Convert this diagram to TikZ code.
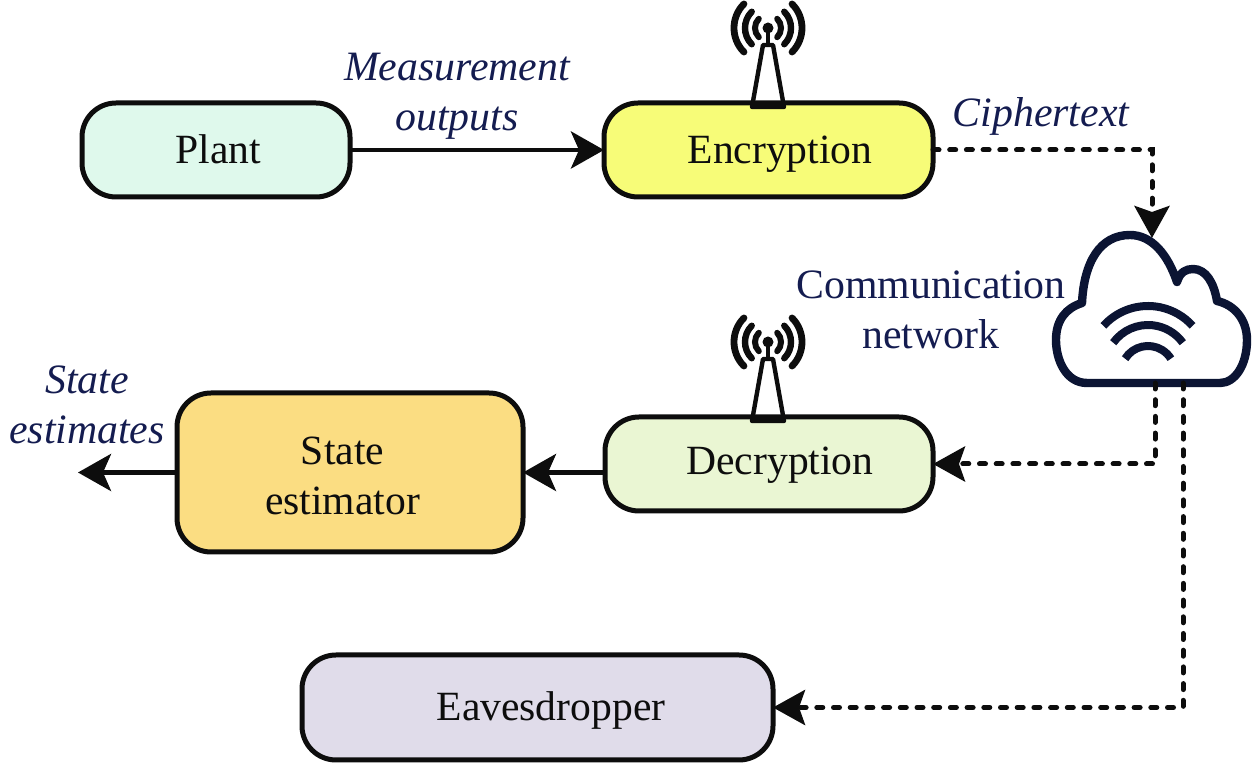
\documentclass[tikz,border=0pt]{standalone}
\usepackage{fontspec}
\setmainfont{Liberation Serif}
\usetikzlibrary{arrows.meta}
\definecolor{inkcol}{HTML}{0D0D0D}
\definecolor{navycol}{HTML}{141C50}
\definecolor{cloudcol}{HTML}{0B1433}
\definecolor{plantcol}{HTML}{DFF9EC}
\definecolor{enccol}{HTML}{F7FC78}
\definecolor{deccol}{HTML}{EAF6D3}
\definecolor{estcol}{HTML}{FBDD82}
\definecolor{eavcol}{HTML}{E0DCEA}
\tikzset{
	blockbox/.style={draw=inkcol, line width=2.5pt, rounded corners=17pt, outer sep=0pt},
	blocktext/.style={text=inkcol, align=center, font=\fontsize{20.8}{25}\selectfont},
	oneline/.style={blocktext, text height=13.5pt, text depth=0pt},
	tag/.style={text=navycol, align=center, font=\fontsize{20.9}{25}\selectfont\itshape},
	plaintag/.style={text=navycol, align=center, font=\fontsize{20.9}{25}\selectfont},
	solidarrow/.style={draw=inkcol, line width=2.4pt, -{Stealth[length=16.5pt, width=18.5pt, inset=4pt]}},
	dasharrow/.style={draw=inkcol, line width=2.5pt, line cap=round, dash pattern=on 3pt off 5.35pt,
		-{Stealth[length=16pt, width=17.5pt, inset=3pt]}},
	mast/.pic={
		\draw[inkcol, line width=2.2pt, line join=round] (-16,0) -- (-5,-62) -- (5,-62) -- (16,0) -- cycle;
		\draw[inkcol, line width=1.8pt] (0,-62) -- (0,-79);
		\fill[inkcol] (0,-79) circle (5.5);
		\foreach \r/\w in {13/3, 23/3.2, 34/3.4} {
			\draw[inkcol, line width=\w pt, line cap=round] (-45:\r) ++(0,-79) arc (-45:45:\r);
			\draw[inkcol, line width=\w pt, line cap=round] (135:\r) ++(0,-79) arc (135:225:\r);
		}
	}
}
\begin{document}
\begin{tikzpicture}[x=0.5pt, y=-0.5pt]
	\useasboundingbox (0,0) rectangle (1260,763);

	% blocks
	\node[blockbox, fill=plantcol, minimum width=134pt, minimum height=47pt,
		label={[oneline, xshift=1.25pt]center:Plant}] (plant) at (216,150) {};
	\node[blockbox, fill=enccol, minimum width=164.5pt, minimum height=47pt,
		label={[oneline, xshift=5.75pt]center:Encryption}] (enc) at (768.5,150) {};
	\node[blockbox, fill=deccol, minimum width=164pt, minimum height=47pt,
		label={[oneline, xshift=5.5pt, yshift=1.5pt]center:Decryption}] (dec) at (769,464) {};
	\node[blockbox, fill=estcol, minimum width=173pt, minimum height=79.5pt,
		label={[blocktext, xshift=-3.75pt, yshift=-1.5pt]center:State\\estimator}] (est) at (350,472.5) {};
	\node[blockbox, fill=eavcol, minimum width=235.5pt, minimum height=52.5pt,
		label={[oneline, xshift=6.75pt]center:Eavesdropper}] (eav) at (537.5,707.5) {};

	% antennas
	\pic at (768,107) {mast};
	\pic at (768,421) {mast};

	% cloud
	\draw[cloudcol, line width=4.2pt, line join=round] (1087,383)
		.. controls (1066,383) and (1056,360) .. (1056,340)
		.. controls (1056,320) and (1066,308) .. (1082,303)
		.. controls (1084,262) and (1100,235) .. (1130,235)
		.. controls (1152,235) and (1168,255) .. (1177,282)
		.. controls (1180,272) and (1186,269) .. (1193,269)
		.. controls (1206,269) and (1214,283) .. (1217,301)
		.. controls (1235,305) and (1247,320) .. (1247,340)
		.. controls (1247,365) and (1235,383) .. (1220,383)
		-- cycle;
	\foreach \r/\a/\cy in {60/48/366, 43/54/368, 27/58/373} {
		\draw[cloudcol, line width=4pt] (-90-\a:\r) ++(1148,\cy) arc (-90-\a:-90+\a:\r);
	}
	\coordinate (cloudtop) at (1152,238);
	\coordinate (cloudleft) at (1155,383);
	\coordinate (cloudright) at (1183,383);
	\coordinate (outend) at (78,472.5);

	% connectors
	\draw[solidarrow] (plant) -- (enc);
	\draw[solidarrow] (dec.west |- est.east) -- (est.east);
	\draw[solidarrow] (est.west) -- (outend);
	\draw[dasharrow] (enc.east) -| (cloudtop);
	\draw[dasharrow] (cloudleft) |- (dec.east);
	\draw[dasharrow] (cloudright) |- (eav.east);

	% labels
	\node[tag] (measlabel) at (457,96) {Measurement\\outputs};
	\node[tag] (ciphlabel) at (1041,116) {Ciphertext};
	\node[plaintag] (netlabel) at (931,310) {Communication\\network};
	\node[tag] (statelabel) at (87,405) {State\\estimates};
\end{tikzpicture}
\end{document}
